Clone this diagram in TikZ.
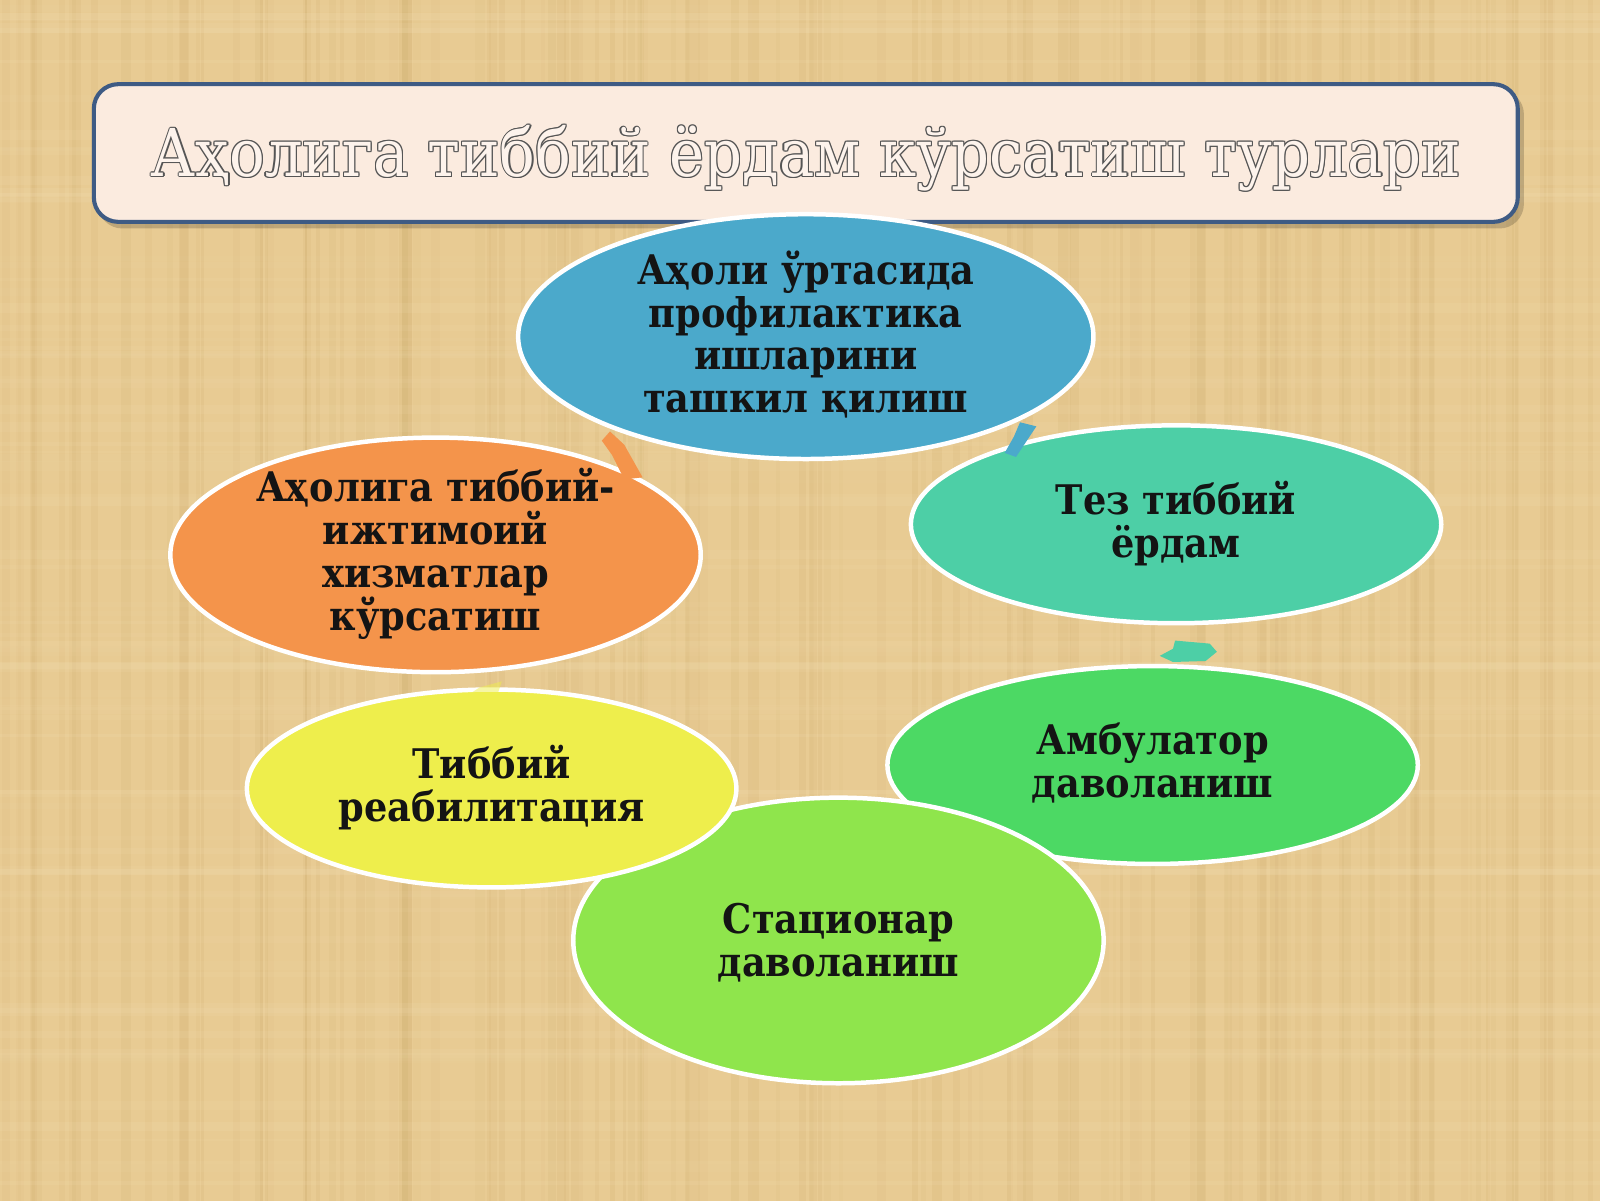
\documentclass[tikz,border=0pt]{standalone}
\usepackage{fontspec}
\usepackage{graphicx}
\usetikzlibrary{shapes.geometric}
\newfontfamily\ellfont{DejaVu Serif Condensed}
\newfontfamily\titlefont{DejaVu Serif Condensed}
\definecolor{bgc}{HTML}{E8CB93}
\definecolor{bgdark}{HTML}{C9A665}
\definecolor{bglight}{HTML}{F5E2B8}
\definecolor{titlefill}{HTML}{FBEBDF}
\definecolor{titleborder}{HTML}{3E5B84}
\definecolor{outlc}{HTML}{555555}
\definecolor{bluec}{HTML}{4BA9CB}
\definecolor{tealc}{HTML}{4DCFA6}
\definecolor{greenc}{HTML}{4CD964}
\definecolor{lgreenc}{HTML}{8FE54C}
\definecolor{yellowc}{HTML}{EEEE4C}
\definecolor{orangec}{HTML}{F4944B}
\newcommand\outltxt[1]{\leavevmode
  \rlap{\color{outlc}\kern-0.6pt #1}%
  \rlap{\color{outlc}\kern0.6pt #1}%
  \rlap{\color{outlc}\raisebox{0.6pt}{#1}}%
  \rlap{\color{outlc}\raisebox{-0.6pt}{#1}}%
  \rlap{\color{outlc}\kern0.45pt\raisebox{0.45pt}{#1}}%
  \rlap{\color{outlc}\kern-0.45pt\raisebox{0.45pt}{#1}}%
  \rlap{\color{outlc}\kern0.45pt\raisebox{-0.45pt}{#1}}%
  \rlap{\color{outlc}\kern-0.45pt\raisebox{-0.45pt}{#1}}%
  {\color{titlefill!60!white}#1}}
\begin{document}
\begin{tikzpicture}[x=0.5pt,y=-0.5pt,
  ell/.style={ellipse, draw=white, line width=2.2pt, inner sep=0pt},
  txt/.style={align=center, inner sep=0pt, text=black!92,
    font=\ellfont\bfseries\fontsize{20}{21}\selectfont},
  titlebox/.style={rectangle, rounded corners=12pt, draw=titleborder,
    line width=2pt, fill=titlefill, minimum width=698pt, minimum height=67.5pt}]
\fill[bgc] (-100,-100) rectangle (1700,1300);
% papyrus texture
\begin{scope}
\pgfmathsetseed{12}
\foreach \i in {1,...,150}{
  \pgfmathsetmacro\xx{rnd*1700-50}
  \pgfmathsetmacro\ww{2+rnd*8}
  \pgfmathsetmacro\op{0.04+rnd*0.12}
  \fill[bgdark,opacity=\op] (\xx,-100) rectangle ++(\ww,1400);
}
\foreach \i in {1,...,95}{
  \pgfmathsetmacro\yy{rnd*1300-50}
  \pgfmathsetmacro\hh{2+rnd*8}
  \pgfmathsetmacro\op{0.04+rnd*0.10}
  \fill[bglight,opacity=\op] (-100,\yy) rectangle ++(1800,\hh);
}
\end{scope}
% title
\fill[black,opacity=0.18,rounded corners=12pt] (96,88) rectangle (1494,224);
\node[titlebox] (title) at (790,150) {};
\node[inner sep=0pt] (titletext) at (790,155)
  {\resizebox{642pt}{!}{\titlefont\fontsize{32}{36}\selectfont\outltxt{Аҳолига тиббий ёрдам кўрсатиш турлари}}};
% ellipses
\node[ell, fill=bluec, minimum width=282pt, minimum height=120pt] (prof) at (790,330) {};
\node[ell, fill=tealc, minimum width=260pt, minimum height=97pt] (tez) at (1153,514) {};
\node[ell, fill=greenc, minimum width=260pt, minimum height=97pt] (amb) at (1130,750) {};
\node[ell, fill=lgreenc, minimum width=260pt, minimum height=140pt] (stat) at (822,922) {};
\node[ell, fill=yellowc, minimum width=240pt, minimum height=97pt] (reab) at (482,773) {};
\node[ell, fill=orangec, minimum width=260pt, minimum height=115pt] (ijt) at (427,544) {};
% small cycle arrows
\fill[orangec] (598,423) -- (612,436) -- (630,468) -- (612,470) -- (600,446) -- (590,432) -- cycle;
\fill[bluec] (1000,414) -- (1016,418) -- (1004,436) -- (996,448) -- (985,444) -- (994,428) -- cycle;
\fill[tealc] (1137,643) -- (1150,636) -- (1152,628) -- (1186,631) -- (1193,639) -- (1182,648) -- (1150,649) -- cycle;
\fill[yellowc,opacity=0.5] (452,686) -- (470,674) -- (492,668) -- (488,680) -- (468,688) -- cycle;
% texts
\node[txt] (tprof) at (790,328) {Аҳоли ўртасида\\профилактика\\ишларини\\ташкил қилиш};
\node[txt] (ttez) at (1153,513) {Тез тиббий\\ёрдам};
\node[txt] (tamb) at (1130,748) {Амбулатор\\даволаниш};
\node[txt] (tstat) at (822,924) {Стационар\\даволаниш};
\node[txt] (treab) at (482,772) {Тиббий\\реабилитация};
\node[txt] (tijt) at (427,543) {Аҳолига тиббий-\\ижтимоий\\хизматлар\\кўрсатиш};
\pgfresetboundingbox
\path[use as bounding box] (0,0) rectangle (1568.63,1176.47);
\end{tikzpicture}
\end{document}
